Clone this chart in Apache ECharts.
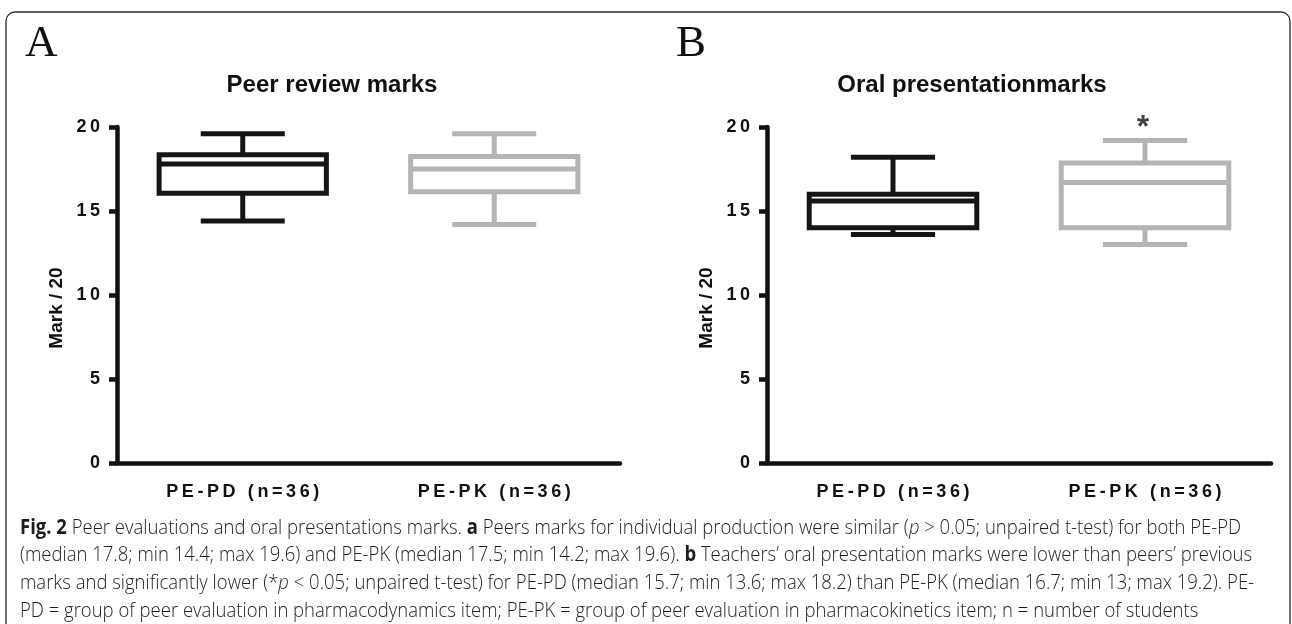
<!DOCTYPE html>
<html>
<head>
<meta charset="utf-8">
<title>Peer evaluations and oral presentations marks</title>
<script src="https://cdn.jsdelivr.net/npm/echarts@6/dist/echarts.min.js"></script>
<style>
    html, body { margin: 0; padding: 0; background: #fff; }
    #chart { width: 1292px; height: 624px; }
</style>
</head>
<body>
<div id="chart"></div>
<script>
'use strict';

var categories = ['PE-PD (n=36)', 'PE-PK (n=36)'];

// panel A - peer review marks
var peerMin = [14.4, 14.2];
var peerQ1 = [16.05, 16.15];
var peerMedian = [17.8, 17.5];
var peerQ3 = [18.35, 18.25];
var peerMax = [19.6, 19.6];

// panel B - oral presentation marks
var oralMin = [13.6, 13.0];
var oralQ1 = [14.0, 14.0];
var oralMedian = [15.6, 16.7];
var oralQ3 = [16.0, 17.85];
var oralMax = [18.2, 19.2];

var yMin = 0;
var yMax = 20;
var yStep = 5;

var titles = ['Peer review marks', 'Oral presentationmarks'];
var panelLetters = ['A', 'B'];
var yName = 'Mark / 20';

var captionLines = [
    [['b', 'Fig. 2'], ['n', ' Peer evaluations and oral presentations marks. '], ['b', 'a'], ['n', ' Peers marks for individual production were similar ('], ['i', 'p'], ['n', ' > 0.05; unpaired t-test) for both PE-PD']],
    [['n', '(median 17.8; min 14.4; max 19.6) and PE-PK (median 17.5; min 14.2; max 19.6). '], ['b', 'b'], ['n', ' Teachers\u2019 oral presentation marks were lower than peers\u2019 previous']],
    [['n', 'marks and significantly lower (*'], ['i', 'p'], ['n', ' < 0.05; unpaired t-test) for PE-PD (median 15.7; min 13.6; max 18.2) than PE-PK (median 16.7; min 13; max 19.2). PE-']],
    [['n', 'PD = group of peer evaluation in pharmacodynamics item; PE-PK = group of peer evaluation in pharmacokinetics item; n = number of students']]
];

var boxColors = ['#151515', '#b4b4b4'];
var ink = '#111';
var THIN = '\u2009';

function spaced(s) {
    return String(s).split('').join(THIN);
}

function buildRows(mins, q1s, meds, q3s, maxs) {
    var rows = [];
    for (var i = 0; i < categories.length; i++) {
        rows.push([i, mins[i], q1s[i], meds[i], q3s[i], maxs[i]]);
    }
    return rows;
}

function renderBox(params, api) {
    var cat = api.value(0);
    var cx = api.coord([cat, 0])[0];
    var band = api.size([1, 0])[0];
    var half = band * 0.665 / 2;
    var capHalf = band * 0.334 / 2;
    var y = function(dim) { return api.coord([cat, api.value(dim)])[1]; };
    var yLo = y(1), yQ1 = y(2), yMed = y(3), yQ3 = y(4), yHi = y(5);
    var st = { stroke: boxColors[cat], lineWidth: 5, fill: null, lineCap: 'butt' };
    return {
        type: 'group',
        children: [
            { type: 'rect', shape: { x: cx - half, y: yQ3, width: half * 2, height: yQ1 - yQ3 }, style: st },
            { type: 'line', shape: { x1: cx - half, y1: yMed, x2: cx + half, y2: yMed }, style: st },
            { type: 'line', shape: { x1: cx, y1: yQ3, x2: cx, y2: yHi }, style: st },
            { type: 'line', shape: { x1: cx, y1: yQ1, x2: cx, y2: yLo }, style: st },
            { type: 'line', shape: { x1: cx - capHalf, y1: yHi, x2: cx + capHalf, y2: yHi }, style: st },
            { type: 'line', shape: { x1: cx - capHalf, y1: yLo, x2: cx + capHalf, y2: yLo }, style: st }
        ]
    };
}

function xAxisFor(idx) {
    return {
        type: 'category',
        gridIndex: idx,
        data: categories,
        axisLine: { lineStyle: { color: ink, width: 4.5 } },
        axisTick: { alignWithLabel: true, length: 8, lineStyle: { color: ink, width: 4.5 } },
        axisLabel: {
            margin: 20,
            color: ink,
            fontSize: 18,
            fontWeight: 'bold',
            fontFamily: '"Liberation Sans", Arial, sans-serif',
            formatter: spaced
        }
    };
}

function yAxisFor(idx) {
    return {
        type: 'value',
        gridIndex: idx,
        min: yMin,
        max: yMax,
        interval: yStep,
        name: yName,
        nameLocation: 'middle',
        nameGap: 51,
        nameTextStyle: {
            color: ink,
            fontSize: 19,
            fontWeight: 'bold',
            fontFamily: '"Liberation Sans", Arial, sans-serif',
            padding: [0, 26, 0, 0]
        },
        splitLine: { show: false },
        axisLine: { show: true, lineStyle: { color: ink, width: 4.5 } },
        axisTick: { show: true, length: 8, lineStyle: { color: ink, width: 4.5 } },
        axisLabel: {
            margin: 17,
            color: ink,
            fontSize: 18,
            fontWeight: 'bold',
            fontFamily: '"Liberation Sans", Arial, sans-serif',
            formatter: spaced
        }
    };
}

// caption: measured per segment so the mixed bold / italic runs line up
var capSize = 21;
var capFamily = '"Open Sans", "Noto Sans", sans-serif';
function capFont(kind) {
    if (kind === 'b') return { fontStyle: 'normal', fontWeight: 'bold' };
    if (kind === 'i') return { fontStyle: 'italic', fontWeight: 300 };
    return { fontStyle: 'normal', fontWeight: 300 };
}
var measureCtx = document.createElement('canvas').getContext('2d');
function segWidth(kind, text) {
    var f = capFont(kind);
    measureCtx.font = f.fontStyle + ' ' + f.fontWeight + ' ' + capSize + 'px ' + capFamily;
    return measureCtx.measureText(text).width;
}

function buildCaption() {
    var baselines = [535.7, 563.3, 591, 618.7];
    var children = [];
    var firstWidth = 0;
    captionLines.forEach(function(line, li) {
        var x = 0;
        line.forEach(function(seg) {
            var f = capFont(seg[0]);
            children.push({
                type: 'text',
                x: x,
                y: baselines[li] - 8.1,
                style: {
                    text: seg[1],
                    fill: '#1e1e1e',
                    fontSize: capSize,
                    fontFamily: capFamily,
                    fontWeight: f.fontWeight,
                    fontStyle: f.fontStyle,
                    verticalAlign: 'middle'
                }
            });
            x += segWidth(seg[0], seg[1]);
        });
        if (li === 0) firstWidth = x;
    });
    var scale = (1241 - 20) / firstWidth;
    return { type: 'group', x: 20, y: 0, scaleX: scale, children: children };
}

var option = {
    backgroundColor: '#fff',
    animation: false,
    title: [{
        text: titles[0],
        left: 327,
        top: 68,
        textAlign: 'center',
        textStyle: { color: ink, fontSize: 24, fontWeight: 'bold', fontFamily: '"Liberation Sans", Arial, sans-serif' }
    }, {
        text: titles[1],
        left: 967,
        top: 68,
        textAlign: 'center',
        textStyle: { color: ink, fontSize: 24, fontWeight: 'bold', fontFamily: '"Liberation Sans", Arial, sans-serif' }
    }],
    grid: [
        { left: 117, right: 672, top: 127, bottom: 161 },
        { left: 767, right: 21, top: 127, bottom: 161 }
    ],
    xAxis: [xAxisFor(0), xAxisFor(1)],
    yAxis: [yAxisFor(0), yAxisFor(1)],
    series: [{
        type: 'custom',
        name: titles[0],
        xAxisIndex: 0,
        yAxisIndex: 0,
        renderItem: renderBox,
        encode: { x: 0, y: [1, 2, 3, 4, 5] },
        data: buildRows(peerMin, peerQ1, peerMedian, peerQ3, peerMax)
    }, {
        type: 'custom',
        name: titles[1],
        xAxisIndex: 1,
        yAxisIndex: 1,
        renderItem: renderBox,
        encode: { x: 0, y: [1, 2, 3, 4, 5] },
        data: buildRows(oralMin, oralQ1, oralMedian, oralQ3, oralMax)
    }, {
        // significance star above PE-PK in panel B
        type: 'scatter',
        xAxisIndex: 1,
        yAxisIndex: 1,
        symbolSize: 0,
        silent: true,
        data: [[1, oralMax[1]]],
        label: {
            show: true,
            position: 'inside',
            offset: [-2, -12],
            formatter: '*',
            color: ink,
            fontSize: 32,
            fontWeight: 'bold',
            fontFamily: '"Liberation Sans", Arial, sans-serif'
        }
    }],
    graphic: [
        {
            type: 'rect',
            z: -10,
            shape: { x: 6, y: 12, width: 1284, height: 700, r: 9 },
            style: { fill: 'none', stroke: '#2a2a2a', lineWidth: 1.3 }
        },
        {
            type: 'text', x: 25, y: 21.6,
            style: { text: panelLetters[0], fill: ink, fontSize: 45, fontFamily: '"Liberation Serif", "Times New Roman", serif', verticalAlign: 'top' }
        },
        {
            type: 'text', x: 676, y: 21.6,
            style: { text: panelLetters[1], fill: ink, fontSize: 45, fontFamily: '"Liberation Serif", "Times New Roman", serif', verticalAlign: 'top' }
        },
        buildCaption()
    ]
};

var myChart = echarts.init(document.getElementById('chart'), null, { renderer: 'canvas' });
myChart.setOption(option);
</script>
</body>
</html>
